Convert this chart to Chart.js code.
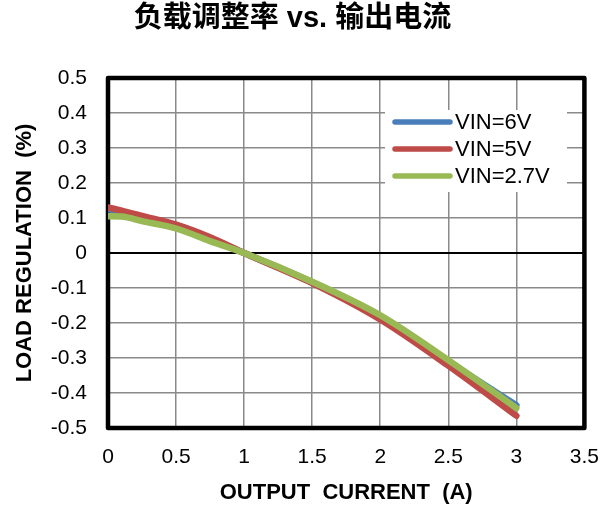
<!DOCTYPE html>
<html>
<head>
<meta charset="utf-8">
<script src="https://cdn.jsdelivr.net/npm/chart.js@4"></script>
<style>
  html, body { margin: 0; padding: 0; background: #fff; }
  #chartFrame { width: 616px; height: 510px; }
</style>
</head>
<body>
<div id="chartFrame"><canvas id="myChart" width="616" height="510"></canvas></div>
<script>
// output current (A)
var current = [0, 0.1, 0.25, 0.5, 0.75, 1, 1.5, 2, 2.5, 3];
// load regulation (%) per input voltage
var vin6 = [0.125, 0.117, 0.102, 0.078, 0.042, 0, -0.084, -0.182, -0.310, -0.435];
var vin5 = [0.130, 0.121, 0.106, 0.081, 0.045, 0, -0.086, -0.190, -0.322, -0.465];
var vin27 = [0.105, 0.104, 0.091, 0.070, 0.034, 0, -0.082, -0.178, -0.306, -0.443];
var seriesNames = ['VIN=6V', 'VIN=5V', 'VIN=2.7V'];
var xTicks = [0, 0.5, 1, 1.5, 2, 2.5, 3, 3.5];
var yTicks = [-0.5, -0.4, -0.3, -0.2, -0.1, 0, 0.1, 0.2, 0.3, 0.4, 0.5];

var colors = ['#4A7EBB', '#BE4B48', '#98B954'];
var latin = "'Liberation Sans', Arial, sans-serif";

function points(ys) {
    return current.map((x, i) => ({ x: x, y: ys[i] }));
}

var dataChart = {
    datasets: [vin6, vin5, vin27].map((ys, i) => ({
        label: seriesNames[i],
        data: points(ys),
        borderColor: colors[i],
        borderWidth: 6.5,
        borderCapStyle: 'round',
        pointRadius: 0,
        cubicInterpolationMode: 'monotone',
        order: 3 - i, // last series on top, like the original
        fill: false
    }))
};

// frame around the plot area, under the lines
var framePlugin = {
    id: 'frame',
    beforeDatasetsDraw(chart) {
        var a = chart.chartArea, ctx = chart.ctx;
        ctx.save();
        ctx.strokeStyle = '#000';
        ctx.lineWidth = 4.5;
        ctx.lineJoin = 'round';
        ctx.strokeRect(a.left, a.top, a.right - a.left, a.bottom - a.top);
        ctx.restore();
    }
};

// legend box inside the plot, top right
var legendPlugin = {
    id: 'innerLegend',
    afterDatasetsDraw(chart) {
        var a = chart.chartArea, ctx = chart.ctx;
        var bx = a.left + 277, by = a.top + 32;
        ctx.save();
        ctx.fillStyle = '#fff';
        ctx.fillRect(bx, by, 182, 82);
        ctx.font = '22px ' + latin;
        ctx.textBaseline = 'middle';
        chart.data.datasets.forEach((ds, i) => {
            var y = by + 12 + i * 27;
            ctx.strokeStyle = ds.borderColor;
            ctx.lineWidth = 5.5;
            ctx.lineCap = 'round';
            ctx.beginPath();
            ctx.moveTo(bx + 10, y);
            ctx.lineTo(bx + 65, y);
            ctx.stroke();
            ctx.fillStyle = '#000';
            ctx.fillText(ds.label, bx + 70, y + 1);
        });
        ctx.restore();
    }
};

var config = {
    type: 'line',
    data: dataChart,
    options: {
        responsive: false,
        animation: false,
        layout: { padding: { left: 0, right: 31, top: 0, bottom: 0 } },
        plugins: {
            legend: { display: false },
            tooltip: { enabled: false },
            title: {
                display: true,
                text: '负载调整率 vs. 输出电流',
                color: '#000',
                font: { family: "'Liberation Sans', 'Noto Sans CJK SC', sans-serif", size: 29, weight: 'bold' },
                padding: { top: 2, bottom: 41.2 }
            }
        },
        scales: {
            x: {
                type: 'linear',
                min: 0,
                max: 3.5,
                afterBuildTicks: scale => { scale.ticks = xTicks.map(v => ({ value: v })); },
                afterFit: scale => { scale.height = 82; },
                ticks: {
                    color: '#000',
                    padding: 17,
                    maxRotation: 0,
                    font: { family: latin, size: 21 },
                    callback: v => String(v)
                },
                grid: { color: '#8a8a8a', lineWidth: 1.5, drawTicks: false },
                border: { display: false },
                title: {
                    display: true,
                    text: 'OUTPUT  CURRENT  (A)',
                    color: '#000',
                    font: { family: latin, size: 22, weight: 'bold' },
                    padding: { top: 0, bottom: 4 }
                }
            },
            y: {
                min: -0.5,
                max: 0.5,
                afterBuildTicks: scale => { scale.ticks = yTicks.map(v => ({ value: v })); },
                afterFit: scale => { scale.width = 108; },
                ticks: {
                    color: '#000',
                    padding: 21,
                    font: { family: latin, size: 21 },
                    callback: v => String(Number(v.toFixed(1)))
                },
                grid: {
                    color: c => (c.tick && Math.abs(c.tick.value) < 1e-9 ? '#000' : '#8a8a8a'),
                    lineWidth: c => (c.tick && Math.abs(c.tick.value) < 1e-9 ? 2 : 1.5),
                    drawTicks: false
                },
                border: { display: false },
                title: {
                    display: true,
                    text: 'LOAD REGULATION  (%)',
                    color: '#000',
                    font: { family: latin, size: 22, weight: 'bold' },
                    padding: { top: 12, bottom: 0 }
                }
            }
        }
    },
    plugins: [framePlugin, legendPlugin]
};

var ctx = document.getElementById('myChart').getContext('2d');
var myChart = new Chart(ctx, config);
</script>
</body>
</html>
